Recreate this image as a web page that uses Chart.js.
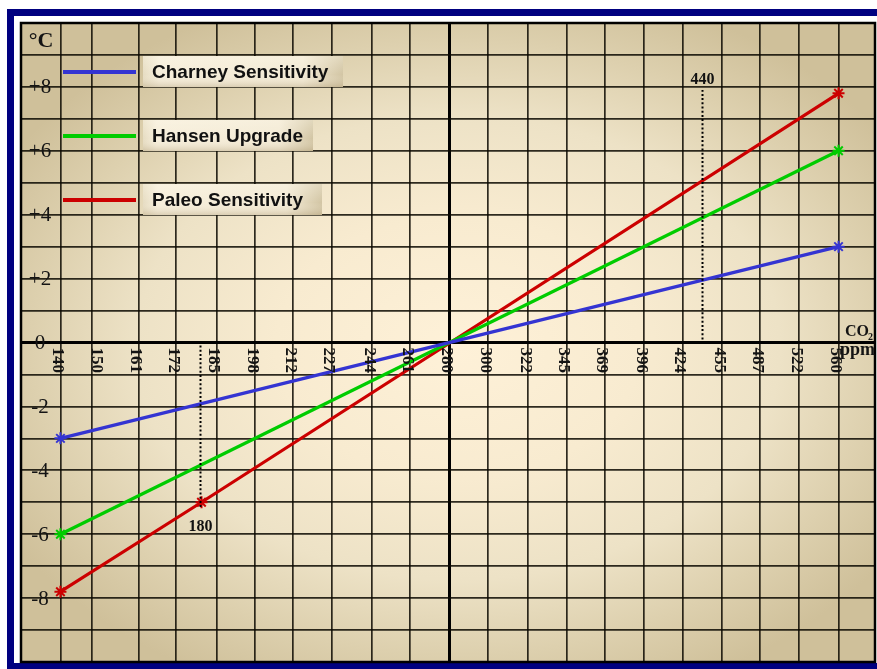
<!DOCTYPE html>
<html><head><meta charset="utf-8">
<script src="https://cdn.jsdelivr.net/npm/chart.js@4.4.0/dist/chart.umd.min.js"></script>
<style>html,body{margin:0;padding:0;background:#fff;overflow:hidden}</style>
</head><body>
<canvas id="c" width="877" height="669" style="display:block;width:877px;height:669px"></canvas>
<script>
// ---- data ----
const seriesNames = ['Charney Sensitivity', 'Hansen Upgrade', 'Paleo Sensitivity'];
const charneyPpm = [140, 560];
const charneyTemp = [-3, 3];
const hansenPpm = [140, 560];
const hansenTemp = [-6, 6];
const paleoPpm = [140, 180, 560];
const paleoTemp = [-7.8, -5, 7.8];
const xTickLabels = ['140','150','161','172','185','198','212','227','244','261','280','300','322','345','369','396','424','455','487','522','560'];
const xGridPpm = [140,148,161,172,185,198,212,227,244,261,280,300,322,345,369,396,424,455,487,522,560];
const yTickLabels = ['+8','+6','+4','+2','0','-2','-4','-6','-8'];
const yTickValues = [8, 6, 4, 2, 0, -2, -4, -6, -8];
const markerPpm = [180, 440];
const markerLabels = ['180', '440'];
const markerTemp = [-5.15, 7.9];

const colors = ['#3434d2', '#00cc00', '#cc0000'];

function pts(xs, ys) { return xs.map((x, i) => ({x: x, y: ys[i]})); }

const SERIF = "'Liberation Serif', 'DejaVu Serif', serif";
const SANS = "'Liberation Sans', Arial, sans-serif";

const decor = {
  id: 'decor',
  beforeDraw(chart) {
    const ctx = chart.ctx, a = chart.chartArea;
    ctx.save();
    ctx.fillStyle = '#ffffff';
    ctx.fillRect(0, 0, chart.width, chart.height);
    // navy frame
    ctx.fillStyle = '#000080';
    ctx.fillRect(7, 9, 870, 7);
    ctx.fillRect(7, 9, 7, 660);
    ctx.fillRect(7, 663, 870, 6);
    // background gradient
    const cx = (a.left + a.right) / 2 + 10, cy = (a.top + a.bottom) / 2 + 5;
    ctx.beginPath();
    ctx.rect(a.left, a.top, a.right - a.left, a.bottom - a.top);
    ctx.clip();
    ctx.translate(cx, cy);
    ctx.scale(1, 0.72);
    const g = ctx.createRadialGradient(0, 0, 0, 0, 0, 520);
    g.addColorStop(0, '#fef1d8');
    g.addColorStop(0.35, '#f8ebd0');
    g.addColorStop(0.62, '#ede2c6');
    g.addColorStop(0.82, '#ddd0ae');
    g.addColorStop(1, '#cfc09a');
    ctx.fillStyle = g;
    ctx.fillRect(-600, -600, 1200, 1200);
    ctx.restore();
  },
  afterDatasetsDraw(chart) {
    const ctx = chart.ctx, a = chart.chartArea;
    const xs = chart.scales.x, ys = chart.scales.y;
    ctx.save();
    // dotted marker lines
    ctx.strokeStyle = '#000';
    ctx.lineWidth = 2;
    markerPpm.forEach((p, i) => {
      const x = Math.round(xs.getPixelForValue(p)) - 0.5;
      const t = markerTemp[i];
      const y0 = ys.getPixelForValue(0) + (t < 0 ? 3 : -3);
      const y1 = ys.getPixelForValue(t);
      ctx.setLineDash([2, 2.2]);
      ctx.beginPath();
      ctx.moveTo(x, y0);
      ctx.lineTo(x, y1);
      ctx.stroke();
      ctx.fillStyle = '#111';
      ctx.font = 'bold 16px ' + SERIF;
      ctx.textAlign = 'center';
      ctx.textBaseline = 'middle';
      ctx.fillText(markerLabels[i], x, t < 0 ? y1 + 20 : y1 - 10);
    });
    ctx.setLineDash([]);
    // chart border
    ctx.strokeStyle = '#000';
    ctx.lineWidth = 2.5;
    ctx.strokeRect(a.left, a.top, a.right - a.left, a.bottom - a.top);
    ctx.restore();
  },
  afterDraw(chart) {
    const ctx = chart.ctx, a = chart.chartArea;
    const xs = chart.scales.x, ys = chart.scales.y;
    ctx.save();
    ctx.fillStyle = '#141414';
    // y labels
    ctx.font = '21px ' + SERIF;
    ctx.textAlign = 'center';
    ctx.textBaseline = 'middle';
    yTickValues.forEach((v, i) => {
      ctx.fillText(yTickLabels[i], a.left + 19, ys.getPixelForValue(v) + 1);
    });
    // unit
    ctx.font = 'bold 22px ' + SERIF;
    ctx.fillText('\u00B0C', a.left + 20, a.top + 18);
    // x labels, rotated clockwise
    ctx.font = 'bold 17px ' + SERIF;
    const y0 = ys.getPixelForValue(0);
    xTickLabels.forEach((lab) => {
      const x = xs.getPixelForValue(Number(lab)) - 3;
      ctx.save();
      ctx.translate(x, y0 + 5);
      ctx.rotate(Math.PI / 2);
      ctx.textAlign = 'left';
      ctx.textBaseline = 'middle';
      ctx.fillText(lab, 0, 0);
      ctx.restore();
    });
    // CO2 ppm
    ctx.font = 'bold 16px ' + SERIF;
    ctx.textAlign = 'left';
    ctx.textBaseline = 'alphabetic';
    ctx.fillText('CO', a.right - 30, y0 - 7);
    ctx.font = 'bold 10px ' + SERIF;
    ctx.fillText('2', a.right - 7, y0 - 3);
    ctx.font = 'bold 18px ' + SERIF;
    ctx.fillText('ppm', a.right - 35, y0 + 12);
    // legend
    const boxW = [200, 170, 179];
    const rowY = [72, 136, 200];
    chart.data.datasets.forEach((ds, i) => {
      const y = rowY[i];
      ctx.strokeStyle = ds.borderColor;
      ctx.lineWidth = 4;
      ctx.beginPath();
      ctx.moveTo(a.left + 42, y);
      ctx.lineTo(a.left + 115, y);
      ctx.stroke();
      const bx = a.left + 122, by = y - 16, bw = boxW[i], bh = 31;
      const lg = ctx.createLinearGradient(bx, 0, bx + bw, 0);
      lg.addColorStop(0, '#e6dcc2');
      lg.addColorStop(0.08, '#f6eedb');
      lg.addColorStop(0.8, '#f3ead5');
      lg.addColorStop(1, '#d2c5a4');
      ctx.fillStyle = lg;
      ctx.fillRect(bx, by, bw, bh);
      const vg = ctx.createLinearGradient(0, by, 0, by + bh);
      vg.addColorStop(0, 'rgba(255,250,235,0.35)');
      vg.addColorStop(0.6, 'rgba(255,250,235,0)');
      vg.addColorStop(1, 'rgba(170,150,110,0.35)');
      ctx.fillStyle = vg;
      ctx.fillRect(bx, by, bw, bh);
      ctx.fillStyle = '#111';
      ctx.font = 'bold 19px ' + SANS;
      ctx.textAlign = 'left';
      ctx.textBaseline = 'middle';
      ctx.fillText(ds.label, bx + 9, y + 1);
    });
    ctx.restore();
  }
};

const mk = (name, data, color, radii) => ({
  label: name,
  data: data,
  borderColor: color,
  backgroundColor: color,
  borderWidth: 3.2,
  pointStyle: 'star',
  pointRadius: radii,
  pointBorderWidth: 2,
  pointBorderColor: color,
  pointBackgroundColor: color,
  tension: 0,
  clip: false
});

new Chart(document.getElementById('c'), {
  type: 'line',
  data: {
    datasets: [
      mk(seriesNames[0], pts(charneyPpm, charneyTemp), colors[0], 6),
      mk(seriesNames[1], pts(hansenPpm, hansenTemp), colors[1], 6),
      mk(seriesNames[2], pts(paleoPpm, paleoTemp), colors[2], 6)
    ]
  },
  options: {
    responsive: false,
    animation: false,
    events: [],
    layout: {autoPadding: false, padding: {left: 21, top: 23, right: 2, bottom: 7}},
    plugins: {legend: {display: false}, tooltip: {enabled: false}},
    scales: {
      x: {
        type: 'logarithmic',
        min: 130.5,
        max: 597.6,
        afterBuildTicks: (s) => { s.ticks = xGridPpm.map(v => ({value: v})); },
        ticks: {display: false},
        border: {display: false},
        grid: {
          drawTicks: false,
          color: (c) => c.tick && c.tick.value === 280 ? '#000' : 'rgba(10,8,0,0.85)',
          lineWidth: (c) => c.tick && c.tick.value === 280 ? 3 : 1.7
        }
      },
      y: {
        type: 'linear',
        min: -10,
        max: 10,
        ticks: {display: false, stepSize: 1},
        border: {display: false},
        grid: {
          drawTicks: false,
          color: (c) => c.tick && c.tick.value === 0 ? '#000' : 'rgba(10,8,0,0.85)',
          lineWidth: (c) => c.tick && c.tick.value === 0 ? 3 : 1.7
        }
      }
    }
  },
  plugins: [decor]
});
</script>
</body></html>
